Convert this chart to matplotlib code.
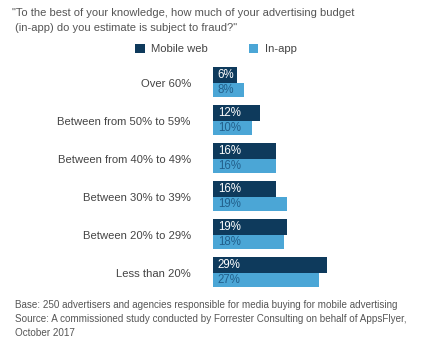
import numpy as np
import matplotlib
matplotlib.use('Agg')
import matplotlib.pyplot as plt

plt.rcParams['font.family'] = ['Liberation Sans', 'DejaVu Sans']

categories = ['Over 60%', 'Between from 50% to 59%', 'Between from 40% to 49%',
              'Between 30% to 39%', 'Between 20% to 29%', 'Less than 20%']
mobile_web = [6, 12, 16, 16, 19, 29]
in_app = [8, 10, 16, 19, 18, 27]

dark = '#0e3a5c'
light = '#4ba6d6'
gray = '#555555'

W, H = 421, 338
fig = plt.figure(figsize=(W / 100, H / 100), dpi=100)

# axes placed in pixel terms: bars start at x=213, groups from y=62 to y=292
left, right, top, bottom = 213, 400, 62, 292
ax = fig.add_axes([left / W, 1 - bottom / H, (right - left) / W, (bottom - top) / H])

y = np.arange(len(categories))
h_dark, h_light = 0.40, 0.37
yd = y - 0.21
yl = y + 0.19

b1 = ax.barh(yd, mobile_web, height=h_dark, color=dark, label='Mobile web')
b2 = ax.barh(yl, in_app, height=h_light, color=light, label='In-app')

for yy, v in zip(yd, mobile_web):
    ax.text(1.2, yy, f'{v}%', color='white', fontsize=8.3, va='center', ha='left')
for yy, v in zip(yl, in_app):
    ax.text(1.2, yy, f'{v}%', color='#22608c', fontsize=8.3, va='center', ha='left')

ax.set_xlim(0, (right - left) / 3.92)
ax.set_ylim(5.5, -0.55)
ax.set_yticks(y)
ax.set_yticklabels(categories, fontsize=8.1, color='#444444')
ax.tick_params(axis='y', length=0, pad=16)
ax.set_xticks([])
for s in ax.spines.values():
    s.set_visible(False)

fig.text(12 / W, 1 - 13 / H, '"To the best of your knowledge, how much of your advertising budget',
         fontsize=8, color=gray, va='center', ha='left')
fig.text(15 / W, 1 - 28 / H, '(in-app) do you estimate is subject to fraud?"',
         fontsize=8, color=gray, va='center', ha='left')

fig.legend(handles=[b1, b2], loc='center', bbox_to_anchor=(216 / W, 1 - 49 / H),
           ncol=2, frameon=False, fontsize=8.1, handlelength=0.85, handleheight=0.85,
           columnspacing=3.6, handletextpad=0.6, labelcolor='#444444')

footer = ['Base: 250 advertisers and agencies responsible for media buying for mobile advertising',
          'Source: A commissioned study conducted by Forrester Consulting on behalf of AppsFlyer,',
          'October 2017']
for i, line in enumerate(footer):
    fig.text(15 / W, 1 - (305 + i * 14) / H, line, fontsize=7.1, color=gray, va='center', ha='left')

plt.savefig('out.png', dpi=100)
